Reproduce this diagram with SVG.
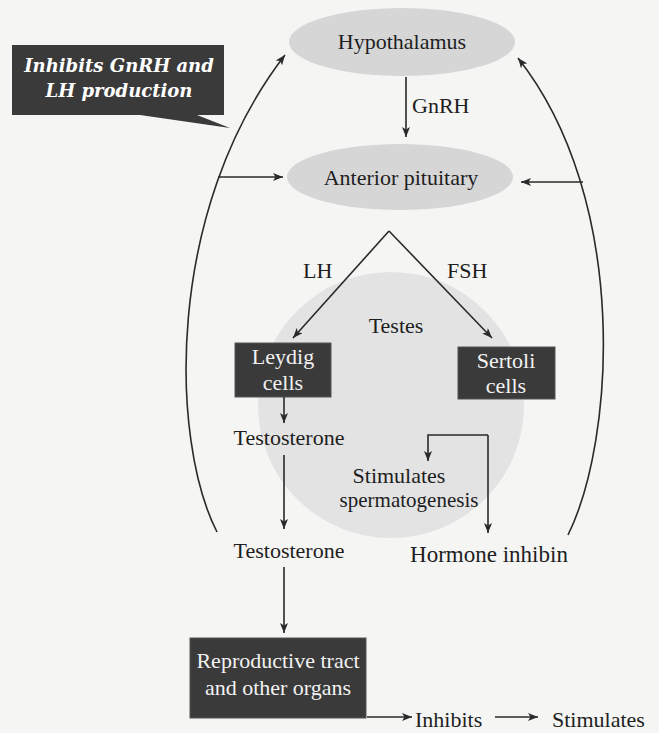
<svg xmlns="http://www.w3.org/2000/svg" width="659" height="733" viewBox="0 0 659 733">
<defs>
<style>
.t{font-family:"Liberation Serif","DejaVu Serif",serif;font-size:22px;fill:#1e1e1e}
.w{font-family:"Liberation Serif","DejaVu Serif",serif;font-size:22px;fill:#f2f2f2;text-anchor:middle}
.c{font-family:"DejaVu Serif","Liberation Serif",serif;font-size:18px;font-weight:bold;font-style:italic;fill:#ffffff;text-anchor:middle}
.ln{fill:none;stroke:#2a2a2a;stroke-width:1.6}
.box{fill:#3a3a3a;stroke:#555;stroke-width:1}
.ell{fill:#d6d6d6}
</style>
<marker id="ah" viewBox="0 0 10 8" refX="10" refY="4" markerWidth="10" markerHeight="8" markerUnits="userSpaceOnUse" orient="auto">
<path d="M0,0 L10,4 L0,8 L2.5,4 Z" fill="#2a2a2a"/>
</marker>
</defs>
<rect width="659" height="733" fill="#f5f5f3"/>
<g id="testes">
<circle cx="391" cy="405" r="133" fill="#e3e3e3"/>
<text class="t" x="396" y="333" text-anchor="middle">Testes</text>
</g>
<g id="hypothalamus">
<ellipse class="ell" cx="402" cy="42" rx="113" ry="34"/>
<text class="t" x="402" y="49" text-anchor="middle">Hypothalamus</text>
</g>
<g id="anterior-pituitary">
<ellipse class="ell" cx="400" cy="177" rx="113" ry="33"/>
<text class="t" x="401" y="185" text-anchor="middle">Anterior pituitary</text>
</g>
<g id="callout">
<path d="M12,45 H224 V115 H197 L230,128 L140,115 H12 Z" fill="#3a3a3a"/>
<text class="c" x="119" y="72">Inhibits GnRH and</text>
<text class="c" x="119" y="97">LH production</text>
</g>
<g id="leydig">
<rect class="box" x="235" y="343" width="96" height="54"/>
<text class="w" x="283" y="364">Leydig</text>
<text class="w" x="283" y="390">cells</text>
</g>
<g id="sertoli">
<rect class="box" x="458" y="347" width="97" height="52"/>
<text class="w" x="506" y="368">Sertoli</text>
<text class="w" x="506" y="393">cells</text>
</g>
<g id="testosterone1"><text class="t" x="289" y="445" text-anchor="middle">Testosterone</text></g>
<g id="testosterone2"><text class="t" x="289" y="558" text-anchor="middle">Testosterone</text></g>
<g id="spermatogenesis">
<text class="t" x="399" y="483" text-anchor="middle">Stimulates</text>
<text class="t" x="409" y="507" text-anchor="middle" style="font-size:21px">spermatogenesis</text>
</g>
<g id="inhibin"><text class="t" x="489" y="562" text-anchor="middle" style="font-size:23px">Hormone inhibin</text></g>
<g id="reproductive">
<rect class="box" x="190" y="638" width="176" height="80"/>
<text class="w" x="278" y="668">Reproductive tract</text>
<text class="w" x="278" y="695">and other organs</text>
</g>
<g id="legend">
<text class="t" x="415" y="727">Inhibits</text>
<text class="t" x="552" y="727">Stimulates</text>
</g>
<g id="connectors">
<line class="ln" x1="406" y1="77" x2="406" y2="137" marker-end="url(#ah)"/>
<text class="t" x="412" y="113">GnRH</text>
<path class="ln" d="M217,532 C170,440 165,210 285,55" marker-end="url(#ah)"/>
<line class="ln" x1="218" y1="177" x2="283" y2="177" marker-end="url(#ah)"/>
<path class="ln" d="M568,535 C615,440 630,200 518,58" marker-end="url(#ah)"/>
<line class="ln" x1="583" y1="182" x2="521" y2="182" marker-end="url(#ah)"/>
<line class="ln" x1="389" y1="231" x2="293" y2="338" marker-end="url(#ah)"/>
<line class="ln" x1="389" y1="231" x2="492" y2="338" marker-end="url(#ah)"/>
<text class="t" x="303" y="278">LH</text>
<text class="t" x="447" y="278">FSH</text>
<line class="ln" x1="284" y1="397" x2="284" y2="423" marker-end="url(#ah)"/>
<line class="ln" x1="284" y1="455" x2="284" y2="529" marker-end="url(#ah)"/>
<line class="ln" x1="284" y1="567" x2="284" y2="633" marker-end="url(#ah)"/>
<path class="ln" d="M488,435 H428 V461" marker-end="url(#ah)"/>
<line class="ln" x1="488" y1="435" x2="488" y2="533" marker-end="url(#ah)"/>
<line class="ln" x1="367" y1="717" x2="412" y2="717" marker-end="url(#ah)"/>
<line class="ln" x1="495" y1="717" x2="538" y2="717" marker-end="url(#ah)"/>
</g>
</svg>
